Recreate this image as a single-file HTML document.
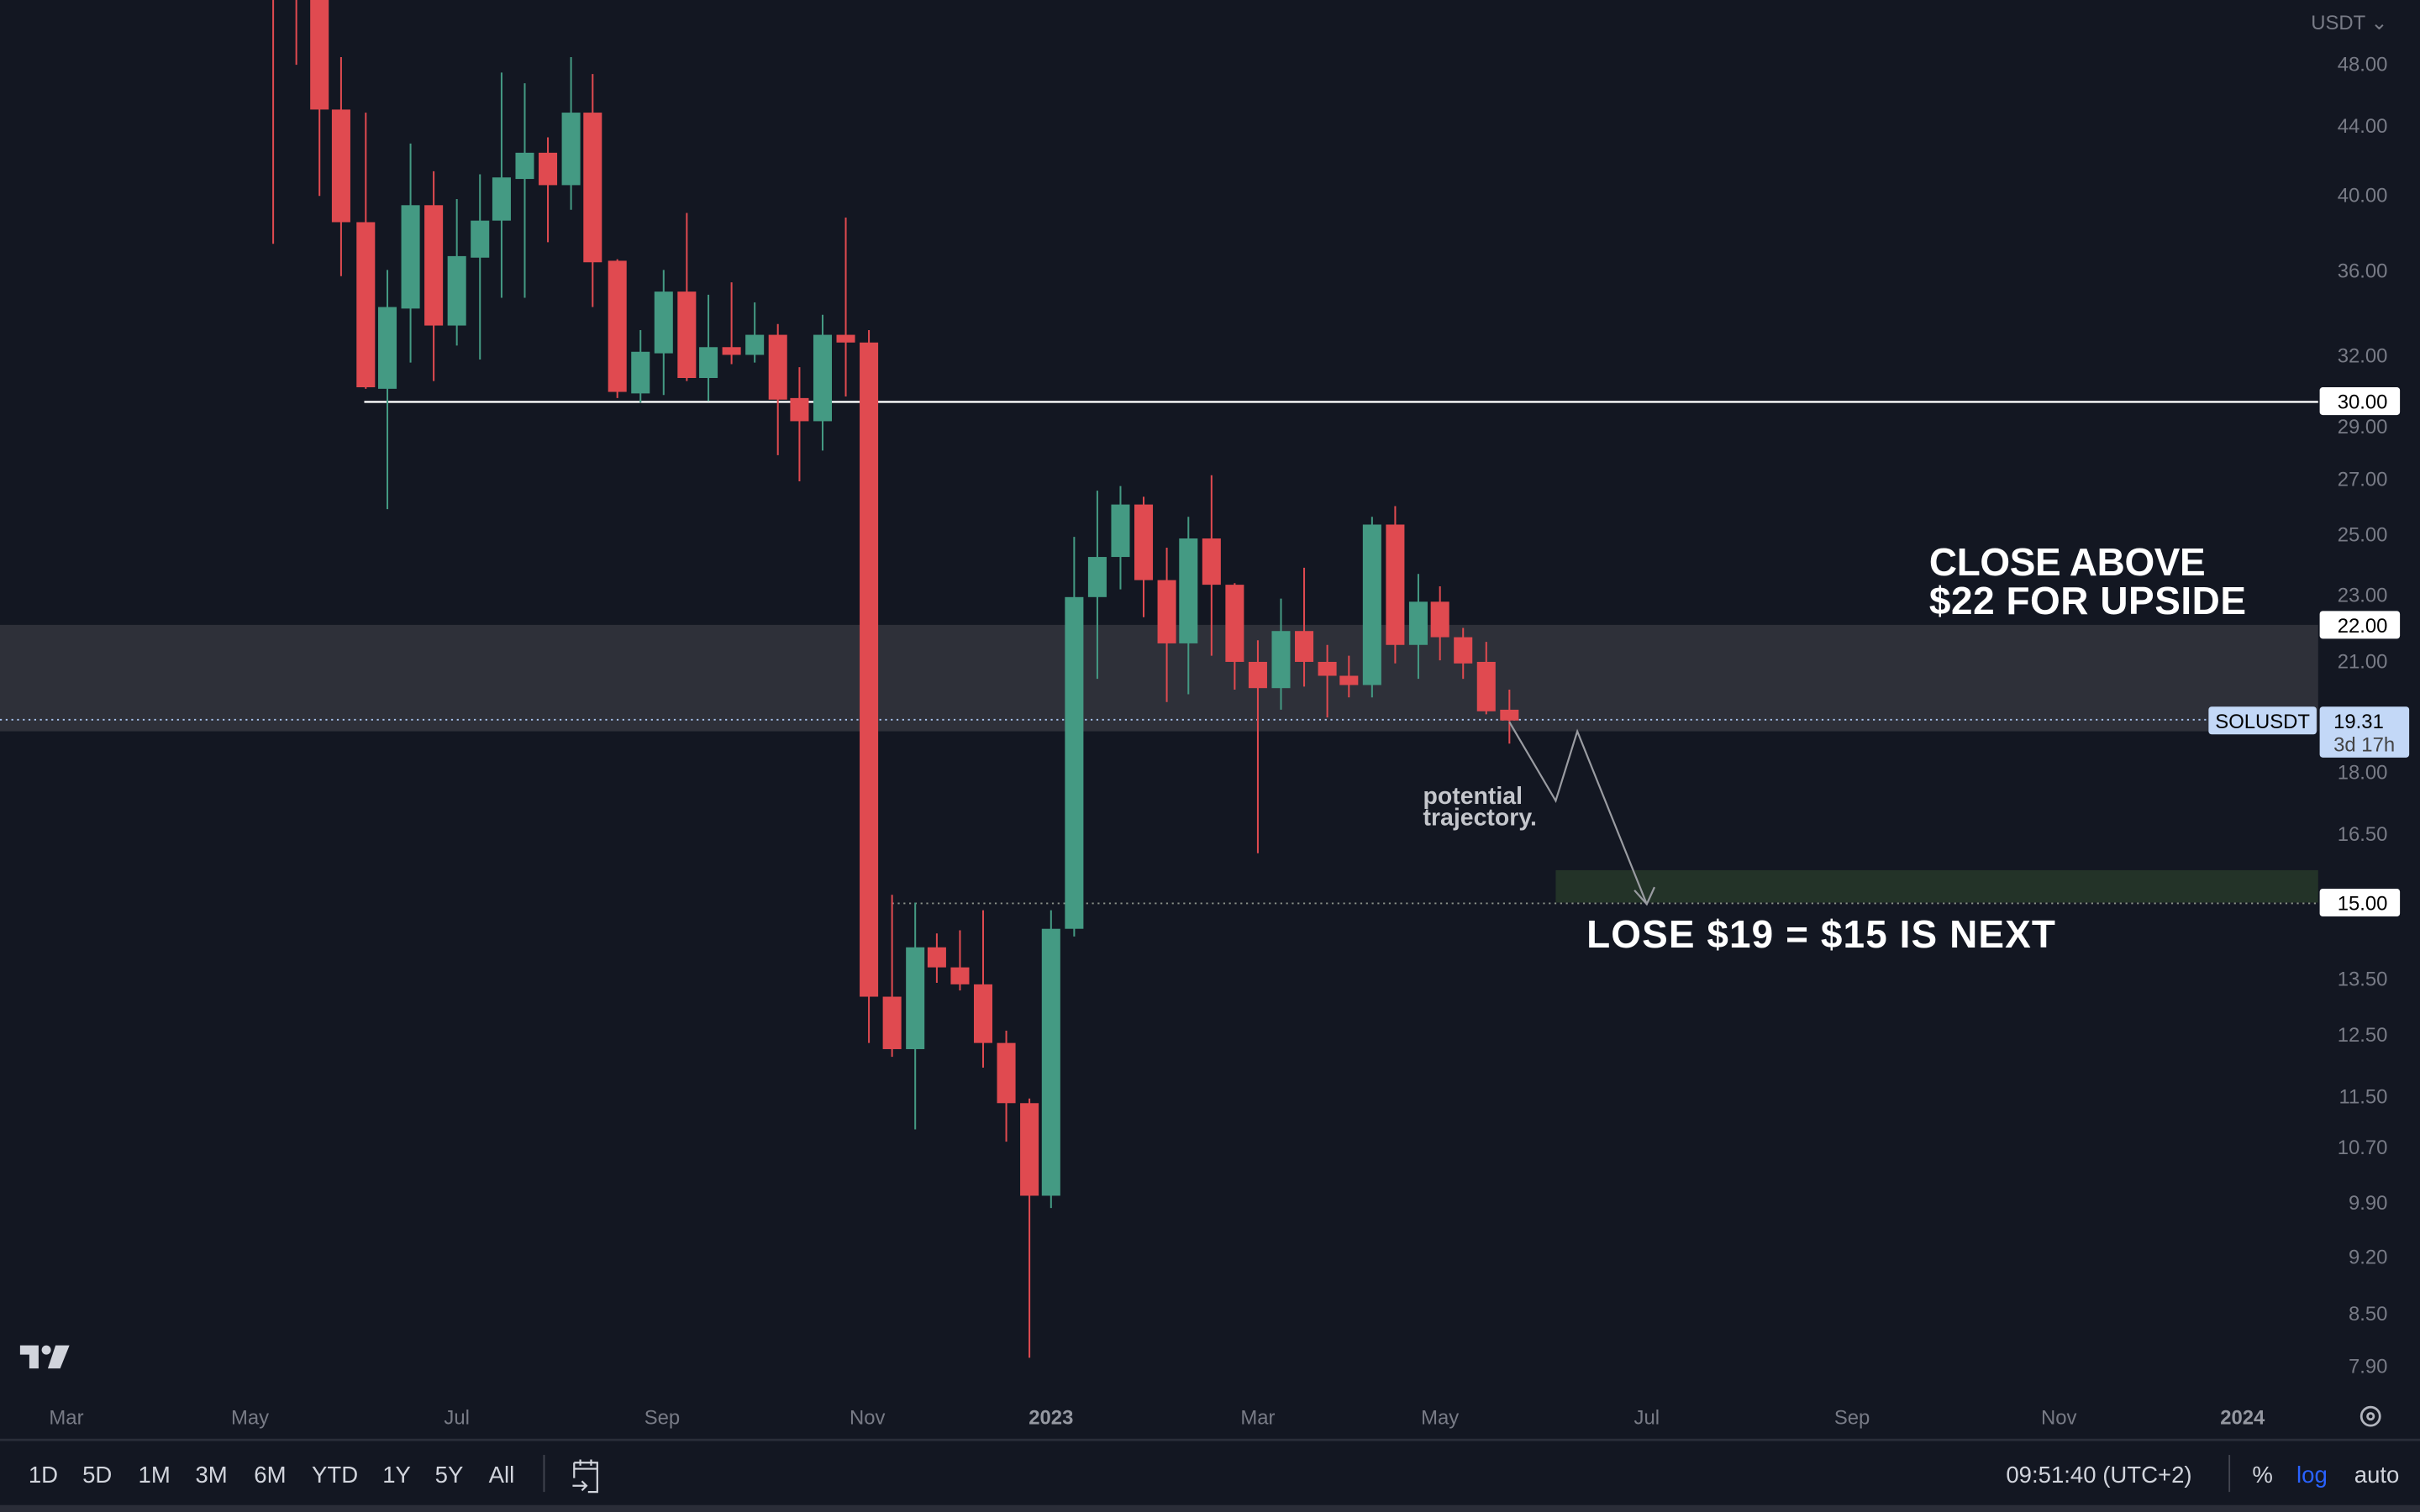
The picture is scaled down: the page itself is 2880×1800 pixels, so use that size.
<!DOCTYPE html>
<html><head><meta charset="utf-8">
<style>
html,body{margin:0;padding:0;background:#131722;}
svg{display:block;}
text{font-family:"Liberation Sans",sans-serif;}
</style></head>
<body>
<svg id="s" width="2880" height="1800" viewBox="0 0 1568 980" xmlns="http://www.w3.org/2000/svg">
<rect x="0" y="0" width="1568" height="980" fill="#131722"/>
<rect x="0" y="405" width="1502" height="69" fill="#2e3039"/>
<rect x="1008" y="564" width="494" height="21" fill="#233328"/>
<line x1="236" y1="260.5" x2="1502" y2="260.5" stroke="#ffffff" stroke-width="1.3"/>
<line x1="0" y1="466.5" x2="1432" y2="466.5" stroke="#a8c4f0" stroke-width="1" stroke-dasharray="1.2 2.5"/>
<line x1="578" y1="585.5" x2="1502" y2="585.5" stroke="#8a9088" stroke-width="1" stroke-dasharray="1.2 2.5"/>
<g id="candles"></g>
<polyline points="978,468 1008,519 1022,474 1067,586" fill="none" stroke="#9a9ca2" stroke-width="1.2"/>
<polyline points="1059,577 1067,586 1072,575" fill="none" stroke="#9a9ca2" stroke-width="1.2"/>
<text x="922" y="521" font-size="15.5" font-weight="bold" fill="#c4c6cc">potential</text>
<text x="922" y="535" font-size="15.5" font-weight="bold" fill="#c4c6cc">trajectory.</text>
<text x="1250" y="373" font-size="25" font-weight="bold" fill="#fff" letter-spacing="-0.2">CLOSE ABOVE</text>
<text x="1250" y="398" font-size="25" font-weight="bold" fill="#fff" letter-spacing="0.3">$22 FOR UPSIDE</text>
<text x="1028" y="614" font-size="25" font-weight="bold" fill="#fff" letter-spacing="0.6">LOSE $19 = $15 IS NEXT</text>
<g font-size="13" fill="#787b86" text-anchor="end">
<text x="1547" y="19">USDT ⌄</text>
<text x="1547" y="46">48.00</text><text x="1547" y="86">44.00</text><text x="1547" y="131">40.00</text>
<text x="1547" y="180">36.00</text><text x="1547" y="235">32.00</text><text x="1547" y="281">29.00</text>
<text x="1547" y="315">27.00</text><text x="1547" y="351">25.00</text><text x="1547" y="390">23.00</text>
<text x="1547" y="433">21.00</text><text x="1547" y="505">18.00</text><text x="1547" y="545">16.50</text>
<text x="1547" y="639">13.50</text><text x="1547" y="675">12.50</text><text x="1547" y="715">11.50</text>
<text x="1547" y="748">10.70</text><text x="1547" y="784">9.90</text><text x="1547" y="819">9.20</text>
<text x="1547" y="856">8.50</text><text x="1547" y="890">7.90</text>
</g>
<rect x="1503" y="251" width="52" height="18" rx="2" fill="#fff"/>
<text x="1547" y="265" font-size="13" fill="#000" text-anchor="end">30.00</text>
<rect x="1503" y="396" width="52" height="18" rx="2" fill="#fff"/>
<text x="1547" y="410" font-size="13" fill="#000" text-anchor="end">22.00</text>
<rect x="1503" y="576" width="52" height="18" rx="2" fill="#fff"/>
<text x="1547" y="590" font-size="13" fill="#000" text-anchor="end">15.00</text>
<rect x="1431" y="458" width="70" height="18" rx="2" fill="#c3d8f7"/>
<text x="1466" y="472" font-size="13" fill="#000" text-anchor="middle">SOLUSDT</text>
<rect x="1503" y="458" width="58" height="33" rx="2" fill="#c3d8f7"/>
<text x="1512" y="472" font-size="13" fill="#000">19.31</text>
<text x="1512" y="487" font-size="13" fill="#444">3d 17h</text>
<g font-size="13" fill="#787b86" text-anchor="middle">
<text x="43" y="923">Mar</text><text x="162" y="923">May</text><text x="296" y="923">Jul</text>
<text x="429" y="923">Sep</text><text x="562" y="923">Nov</text>
<text x="681" y="923" font-weight="bold" fill="#9598a1">2023</text>
<text x="815" y="923">Mar</text><text x="933" y="923">May</text><text x="1067" y="923">Jul</text>
<text x="1200" y="923">Sep</text><text x="1334" y="923">Nov</text>
<text x="1453" y="923" font-weight="bold" fill="#9598a1">2024</text>
</g>
<circle cx="1536" cy="918" r="6" fill="none" stroke="#b2b5be" stroke-width="1.5"/>
<circle cx="1536" cy="918" r="2" fill="none" stroke="#b2b5be" stroke-width="1.5"/>
<path d="M13 872 H25 V887 H19 V878 H13 Z" fill="#d1d4dc"/>
<circle cx="30" cy="875" r="3" fill="#d1d4dc"/>
<path d="M36 872 H45 L39 887 H31 Z" fill="#d1d4dc"/>
<rect x="0" y="932.5" width="1568" height="1.5" fill="#2a2e39"/>
<rect x="0" y="975.5" width="1568" height="5" fill="#2a2d38"/>
<g font-size="15" fill="#d1d4dc" text-anchor="middle">
<text x="28" y="961">1D</text><text x="63" y="961">5D</text><text x="100" y="961">1M</text>
<text x="137" y="961">3M</text><text x="175" y="961">6M</text><text x="217" y="961">YTD</text>
<text x="257" y="961">1Y</text><text x="291" y="961">5Y</text><text x="325" y="961">All</text>
<text x="1360" y="961">09:51:40 (UTC+2)</text>
<text x="1466" y="961">%</text>
<text x="1498" y="961" fill="#2962ff">log</text>
<text x="1540" y="961">auto</text>
</g>
<line x1="352.5" y1="943" x2="352.5" y2="967" stroke="#434651"/>
<line x1="1444.5" y1="943" x2="1444.5" y2="967" stroke="#434651"/>
<path d="M372 948 H387 V967 H381 M372 948 V958 M372 952 H387 M376 946 V950 M383 946 V950 M371 963 H380 M377 960 L380 963 L377 966" fill="none" stroke="#d1d4dc" stroke-width="1.2"/>
</svg>
<script>
var d=[
[177,'r',0,0,0,158],[192,'r',0,0,0,42],[207,'r',0,71,0,127],[221,'r',71,144,37,179],
[237,'r',144,251,73,252],[251,'g',199,252,175,330],[266,'g',133,200,93,235],[281,'r',133,211,111,247],
[296,'g',166,211,129,224],[311,'g',143,167,113,233],[325,'g',115,143,47,193],[340,'g',99,116,54,193],
[355,'r',99,120,89,157],[370,'g',73,120,37,136],[384,'r',73,170,48,199],[400,'r',169,254,168,258],
[415,'g',228,255,214,261],[430,'g',189,229,175,256],[445,'r',189,245,138,247],[459,'g',225,245,191,260],
[474,'r',225,230,183,236],[489,'g',217,230,196,235],[504,'r',217,259,210,295],[518,'r',258,273,238,312],
[533,'g',217,273,204,292],[548,'r',217,222,141,257],[563,'r',222,646,214,676],[578,'r',646,680,580,685],
[593,'g',614,680,585,732],[607,'r',614,627,605,637],[622,'r',627,638,603,642],[637,'r',638,676,590,692],
[652,'r',676,715,668,740],[667,'r',715,775,712,880],[681,'g',602,775,590,783],[696,'g',387,602,348,607],
[711,'g',361,387,318,440],[726,'g',327,361,315,382],[741,'r',327,376,322,400],[756,'r',376,417,355,455],
[770,'g',349,417,335,450],[785,'r',349,379,308,425],[800,'r',379,429,378,447],[815,'r',429,446,415,553],
[830,'g',409,446,388,460],[845,'r',409,429,368,445],[860,'r',429,438,418,465],[874,'r',438,444,425,452],
[889,'g',340,444,335,452],[904,'r',340,418,328,430],[919,'g',390,418,372,440],[933,'r',390,413,380,428],
[948,'r',413,430,407,440],[963,'r',429,461,416,463],[978,'r',460,467,447,482]];
var g=document.getElementById('candles'),h='';
d.forEach(function(c){var col=c[1]=='r'?'#e04a50':'#449a83';
h+='<line x1="'+c[0]+'" x2="'+c[0]+'" y1="'+c[4]+'" y2="'+c[5]+'" stroke="'+col+'" stroke-width="1.1"/>';
if(c[3]>c[2]) h+='<rect x="'+(c[0]-6)+'" y="'+c[2]+'" width="12" height="'+(c[3]-c[2])+'" fill="'+col+'"/>';});
g.innerHTML=h;
</script>
</body></html>
